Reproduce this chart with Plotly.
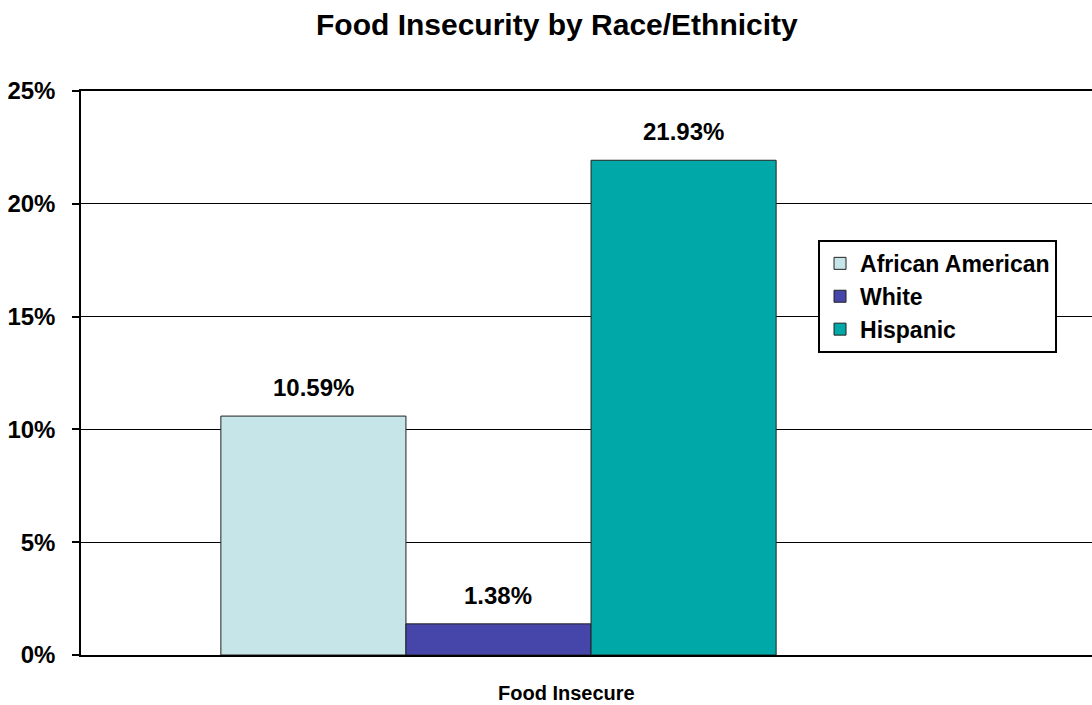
import plotly.graph_objects as go

categories = ["Food Insecure"]
series_names = ["African American", "White", "Hispanic"]
series_values = [[0.1059], [0.0138], [0.2193]]
series_colors = ["#C6E5E8", "#4646AA", "#00A8A8"]
title_text = "Food Insecurity by Race/Ethnicity"
y_ticks = [0, 0.05, 0.10, 0.15, 0.20, 0.25]

FONT = "Liberation Sans, Arial, sans-serif"
bargap = 0.335
n = len(series_names)
w = (1 - bargap) / n

fig = go.Figure()
for name, vals, col in zip(series_names, series_values, series_colors):
    fig.add_trace(go.Bar(
        name=name, x=categories, y=vals,
        marker=dict(color=col, line=dict(color="#222222", width=1)),
    ))

annotations = []
for i, (name, vals) in enumerate(zip(series_names, series_values)):
    for j, v in enumerate(vals):
        annotations.append(dict(
            x=j + (i - (n - 1) / 2) * w, y=v, xref="x", yref="y",
            text=f"{v*100:.2f}%", showarrow=False, yanchor="bottom",
            yshift=13, font=dict(family=FONT, size=24, color="black", weight="bold"),
        ))
annotations.append(dict(
    x=0.4807, y=-0.067, xref="paper", yref="paper", text=categories[0],
    showarrow=False, xanchor="center", yanchor="middle",
    font=dict(family=FONT, size=20, color="black", weight="bold"),
))

fig.update_layout(
    width=1092, height=705,
    margin=dict(l=81, r=0, t=91, b=50),
    paper_bgcolor="white", plot_bgcolor="white",
    barmode="group", bargap=bargap, bargroupgap=0,
    title=dict(text=title_text, x=0.51, xref="container", xanchor="center",
               y=1 - 24 / 705, yref="container", yanchor="middle",
               font=dict(family=FONT, size=30, color="black", weight="bold")),
    xaxis=dict(range=[-0.5, 0.7108], showticklabels=False, showgrid=False,
               showline=True, linecolor="black", linewidth=1.5, mirror=True,
               ticks="", zeroline=False, fixedrange=True),
    yaxis=dict(range=[0, 0.25], tickvals=y_ticks, tickformat=".0%",
               showgrid=True, gridcolor="black", gridwidth=1,
               showline=True, linecolor="black", linewidth=1.5,
               ticks="outside", ticklen=7, tickcolor="black", tickwidth=1.5,
               ticklabelstandoff=12, zeroline=False,
               tickfont=dict(family=FONT, size=24, color="black", weight="bold")),
    legend=dict(x=0.729, y=0.736, xanchor="left", yanchor="top",
                bgcolor="white", bordercolor="black", borderwidth=2,
                font=dict(family=FONT, size=23, color="black", weight="bold"),
                traceorder="normal", itemwidth=30),
    annotations=annotations,
    showlegend=True,
)

fig.write_html("out.html")
